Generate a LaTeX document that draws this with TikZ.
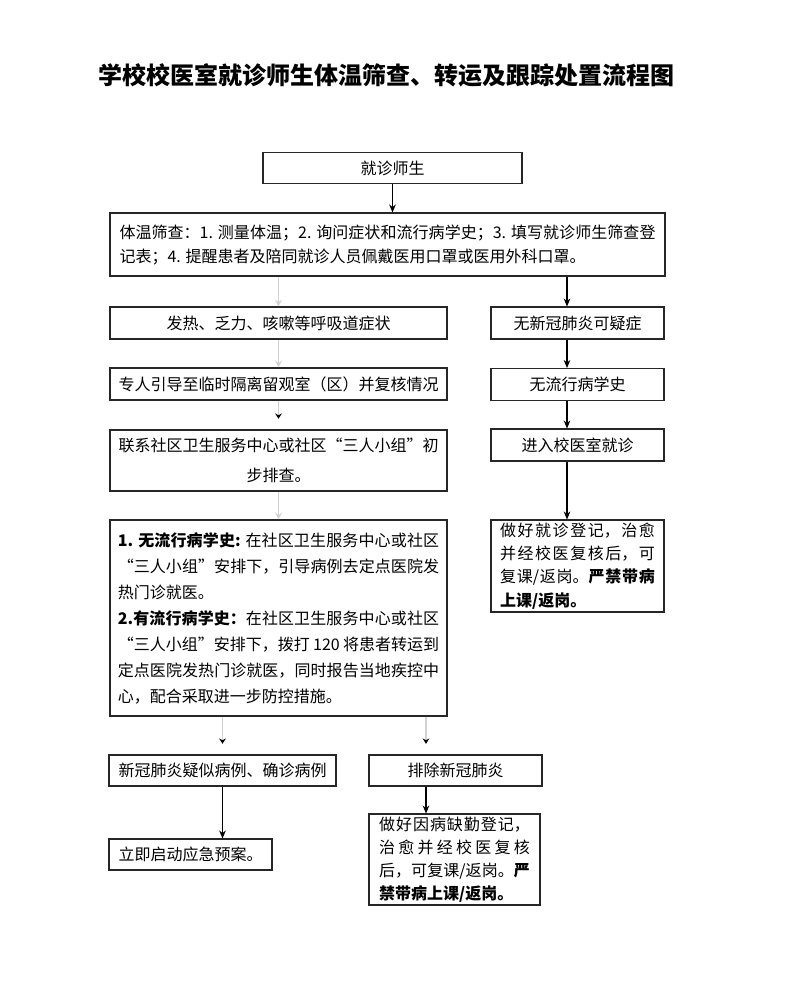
\documentclass[tikz,border=0pt]{standalone}
\usepackage{fontspec}
\setmainfont{Noto Sans CJK SC}
\usetikzlibrary{arrows.meta}
\XeTeXlinebreaklocale "zh"
\XeTeXlinebreakskip=0pt plus 3pt

\begin{document}
\begin{tikzpicture}[x=0.75pt,y=-0.75pt,
        box/.style={draw=black!85,line width=0.8pt,inner sep=0pt,
            font=\fontsize{12pt}{18pt}\selectfont},
        link/.style={line width=0.8pt,-{Stealth[length=6pt,width=5pt]}},
        faint/.style={gray!35,line width=0.8pt,-{Stealth[length=5pt,width=5pt]}},
        faintdark/.style={gray!35,line width=0.8pt,
            -{Stealth[length=4pt,width=5pt,color=black]},shorten >=8pt}]
    \useasboundingbox (0,0) rectangle (799,985);
    \node[font=\fontsize{18pt}{21pt}\selectfont\bfseries] (title) at (386,75)
        {学校校医室就诊师生体温筛查、转运及跟踪处置流程图};
    % top
    \node[box,minimum width=194.25pt,minimum height=23.25pt] (visit) at (392.5,168) {就诊师生};
    \node[box,minimum width=416.25pt,minimum height=47.25pt,text width=402pt,align=justify]
        (screen) at (387.5,244.5)
        {体温筛查：1. 测量体温；2. 询问症状和流行病学史；3. 填写就诊师生筛查登\linebreak
         记表；4. 提醒患者及陪同就诊人员佩戴医用口罩或医用外科口罩。};
    % left column
    \node[box,minimum width=252.75pt,minimum height=24pt] (fever) at (278.5,323)
        {发热、乏力、咳嗽等呼吸道症状};
    \node[box,minimum width=252.75pt,minimum height=24pt] (guide) at (278.5,384)
        {专人引导至临时隔离留观室（区）并复核情况};
    \node[box,minimum width=252.75pt,minimum height=45.75pt,align=center,
        font=\fontsize{12pt}{22pt}\selectfont] (contact) at (278.5,460.5)
        {联系社区卫生服务中心或社区“三人小组”初\\步排查。};
    \node[box,minimum width=252.75pt,minimum height=147pt,text width=241pt,align=justify,
        font=\fontsize{12pt}{19.5pt}\selectfont] (detail) at (278.5,618)
        {{\bfseries 1. 无流行病学史:} 在社区卫生服务中心或社区\linebreak
         “三人小组”安排下，引导病例去定点医院发\linebreak
         热门诊就医。\\
         {\bfseries 2.有流行病学史：}在社区卫生服务中心或社区\linebreak
         “三人小组”安排下，拨打 120 将患者转运到\linebreak
         定点医院发热门诊就医，同时报告当地疾控中\linebreak
         心，配合采取进一步防控措施。};
    \node[box,minimum width=170.25pt,minimum height=23.25pt] (suspect) at (222.5,770.5)
        {新冠肺炎疑似病例、确诊病例};
    \node[box,minimum width=122.25pt,minimum height=23.25pt] (launch) at (190.5,854.5)
        {立即启动应急预案。};
    \node[box,minimum width=129.75pt,minimum height=23.25pt] (exclude) at (455.5,770.5)
        {排除新冠肺炎};
    \node[box,minimum width=128.25pt,minimum height=68.25pt,text width=113pt,align=justify,
        font=\fontsize{12pt}{17.25pt}\selectfont] (resume) at (454.5,859.5)
        {做好因病缺勤登记，\linebreak 治愈并经校医复核\linebreak
         后，可复课/返岗。{\bfseries 严\linebreak 禁带病上课/返岗。}};
    % right column
    \node[box,minimum width=129.75pt,minimum height=24pt] (nosus) at (577.5,323)
        {无新冠肺炎可疑症};
    \node[box,minimum width=129.75pt,minimum height=24pt] (nohist) at (577.5,384.5)
        {无流行病学史};
    \node[box,minimum width=129.75pt,minimum height=24pt] (enter) at (577.5,445)
        {进入校医室就诊};
    \node[box,minimum width=129.75pt,minimum height=69pt,text width=116pt,align=justify,
        font=\fontsize{12pt}{17.5pt}\selectfont] (record) at (577.5,566)
        {做好就诊登记，治愈\linebreak 并经校医复核后，可\linebreak
         复课/返岗。{\bfseries 严禁带病\linebreak 上课/返岗。}};
    % connectors
    \coordinate (rx) at (567,0);
    \coordinate (ex) at (426,0);
    \draw[link] (visit.south) -- (visit.south |- screen.north);
    \draw[link] (screen.south -| rx) -- (nosus.north -| rx);
    \draw[link] (nosus.south -| rx) -- (nohist.north -| rx);
    \draw[link] (nohist.south -| rx) -- (enter.north -| rx);
    \draw[link] (enter.south -| rx) -- (record.north -| rx);
    \draw[faint] (screen.south -| fever.north) -- (fever.north);
    \draw[faint] (fever) -- (guide);
    \draw[faintdark] (guide) -- (contact);
    \draw[faint] (contact) -- (detail);
    \draw[faintdark] (detail.south -| suspect.north) -- (suspect.north);
    \draw[faintdark] (detail.south -| ex) -- (exclude.north -| ex);
    \draw[link] (suspect.south) -- (suspect.south |- launch.north);
    \draw[link] (exclude.south -| ex) -- (resume.north -| ex);
\end{tikzpicture}
\end{document}
